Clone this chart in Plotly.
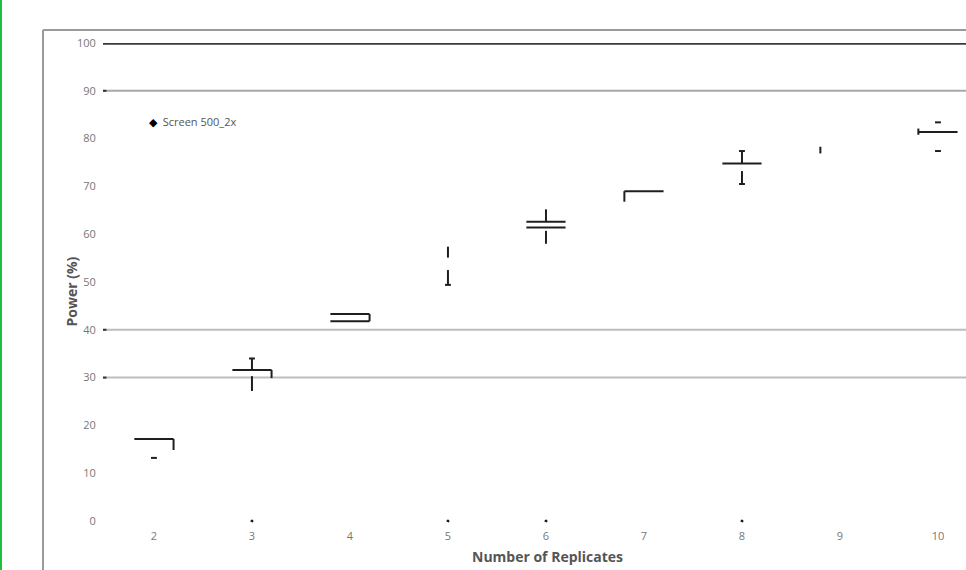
import plotly.graph_objects as go

# ---------------- data ----------------
categories = [2, 3, 4, 5, 6, 7, 8, 9, 10]

# full-width horizontal box edges: (replicates, power %)
box_edges_cat = [2, 3, 4, 4, 6, 6, 7, 8, 10]
box_edges_val = [17.15, 31.6, 43.3, 41.8, 62.6, 61.4, 69.0, 74.8, 81.4]

# right-side box verticals: (replicates, from, to)
right_cat = [2, 3, 4]
right_from = [17.15, 31.6, 43.3]
right_to = [14.85, 29.9, 41.8]

# left-side box verticals
left_cat = [7, 9, 10]
left_from = [69.0, 78.3, 82.1]
left_to = [66.8, 76.9, 80.8]

# whisker segments at the category centre
whisk_cat = [3, 3, 5, 5, 6, 6, 8, 8]
whisk_from = [34.0, 30.3, 57.4, 52.5, 65.2, 60.7, 77.4, 73.2]
whisk_to = [31.6, 27.2, 55.1, 49.4, 62.6, 58.0, 74.8, 70.5]

# short caps / dashes at the centre
cap_cat = [2, 3, 5, 8, 8, 10, 10]
cap_val = [13.2, 34.0, 49.4, 77.4, 70.5, 83.4, 77.4]

# points at zero
zero_cat = [3, 5, 6, 8]
zero_val = [0, 0, 0, 0]

gridline_vals = [100, 90, 40, 30]
gridline_cols = ["#3a3a3a", "#a8a8a8", "#bdbdbd", "#bdbdbd"]
gridline_widths = [3.5, 2, 2, 2]
y_ticks = [0, 10, 20, 30, 40, 50, 60, 70, 80, 90, 100]

# ---------------- build ----------------
HW = 0.2    # half box width (category units)
CW = 0.03   # half cap width

xs, ys = [], []
for c, v in zip(box_edges_cat, box_edges_val):
    xs += [c - HW, c + HW, None]; ys += [v, v, None]
for c, a, b in zip(right_cat, right_from, right_to):
    xs += [c + HW, c + HW, None]; ys += [a, b, None]
for c, a, b in zip(left_cat, left_from, left_to):
    xs += [c - HW, c - HW, None]; ys += [a, b, None]
for c, a, b in zip(whisk_cat, whisk_from, whisk_to):
    xs += [c, c, None]; ys += [a, b, None]
for c, v in zip(cap_cat, cap_val):
    xs += [c - CW, c + CW, None]; ys += [v, v, None]

fig = go.Figure()
fig.add_trace(go.Scatter(x=xs, y=ys, mode="lines",
                         line=dict(color="#1e1e1e", width=2),
                         showlegend=False, hoverinfo="skip", cliponaxis=False))
fig.add_trace(go.Scatter(x=zero_cat, y=zero_val, mode="markers",
                         marker=dict(color="#1e1e1e", size=3),
                         showlegend=False, cliponaxis=False, hoverinfo="skip"))

shapes = []
for v, col, w in zip(gridline_vals, gridline_cols, gridline_widths):
    shapes.append(dict(type="line", xref="paper", yref="y", x0=0, x1=1, y0=v, y1=v,
                       line=dict(color=col, width=w), layer="below"))
    shapes.append(dict(type="line", xref="paper", yref="y", x0=0, x1=0.004, y0=v, y1=v,
                       line=dict(color="#333", width=2), layer="below"))
# outer frame (grey) and green edge
shapes.append(dict(type="line", xref="paper", yref="paper", x0=-0.0695, x1=-0.0695,
                   y0=1.027, y1=-0.11, line=dict(color="#9a9a9a", width=2)))
shapes.append(dict(type="line", xref="paper", yref="paper", x0=-0.0695, x1=1.01,
                   y0=1.027, y1=1.027, line=dict(color="#9a9a9a", width=2)))
shapes.append(dict(type="line", xref="paper", yref="paper", x0=-0.1182, x1=-0.1182,
                   y0=1.12, y1=-0.11, line=dict(color="#1fbf3f", width=2)))

annotations = [
    dict(text="<span style='color:#000000'>◆</span>  Screen 500_2x", xref="paper", yref="paper",
         x=0.0505, y=0.8357, xanchor="left", yanchor="middle", showarrow=False,
         font=dict(size=11, color="#555555")),
    dict(text="<b>Power (%)</b>", xref="paper", yref="paper", x=-0.036, y=0.48,
         textangle=-90, showarrow=False, xanchor="center", yanchor="middle",
         font=dict(size=14, color="#555555")),
    dict(text="<b>Number of Replicates</b>", xref="paper", yref="paper", x=0.5145, y=-0.075,
         showarrow=False, xanchor="center", yanchor="middle",
         font=dict(size=14, color="#555555")),
]

fig.update_layout(
    width=966, height=570,
    margin=dict(l=103, r=0, t=43, b=49),
    paper_bgcolor="white", plot_bgcolor="white",
    font=dict(family="Open Sans, Noto Sans, sans-serif", size=11, color="#666666"),
    shapes=shapes, annotations=annotations, showlegend=False, hovermode=False,
    xaxis=dict(range=[1.48, 10.286], tickvals=categories, ticktext=[str(c) for c in categories],
               showgrid=False, zeroline=False, showline=False,
               ticks="outside", ticklen=5, tickcolor="white",
               tickfont=dict(size=11, color="#777777")),
    yaxis=dict(range=[0, 100], tickvals=y_ticks, showgrid=False, zeroline=False, showline=False,
               ticks="outside", ticklen=4, tickcolor="white",
               tickfont=dict(size=11, color="#777777")),
)

fig.write_html("out.html", config={"displayModeBar": False},
               post_script="document.body.style.margin='0px';")
